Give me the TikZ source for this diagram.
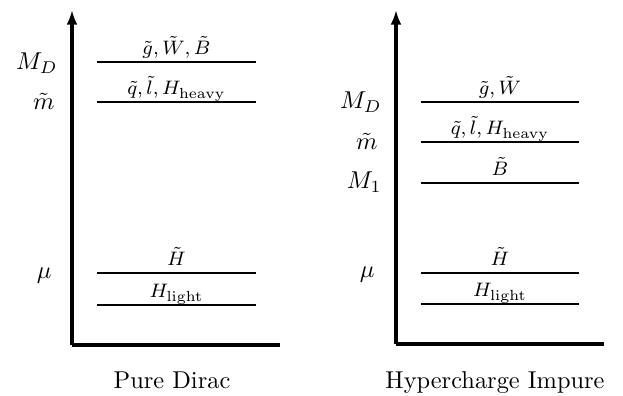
\documentclass[tikz,border=0pt]{standalone}
\usetikzlibrary{arrows.meta}
\begin{document}
\begin{tikzpicture}[x=0.41pt, y=-0.41pt,
    axis/.style={line width=1.3pt},
    lvl/.style={line width=1pt},
    lvltext/.style={anchor=base, font=\footnotesize, yshift=3pt},
    scaletext/.style={anchor=base east, inner sep=0pt},
    caption/.style={anchor=base}]
    \useasboundingbox (0,0) rectangle (623,396);

    % Pure Dirac
    \begin{scope}
        \coordinate (orgA) at (72,345);
        \coordinate (topA) at (72,10);
        \coordinate (endA) at (280,345);
        \draw[axis, -{Latex[length=6pt,width=4.5pt]}] (orgA) -- (topA);
        \draw[axis] (orgA) -- (endA);
        \draw[lvl] (97,62) -- (256,62) node[midway, lvltext] {$\tilde g,\tilde W,\tilde B$};
        \draw[lvl] (97,102) -- (256,102) node[midway, lvltext] {$\tilde q,\tilde l,H_{\rm heavy}$};
        \draw[lvl] (97,273) -- (256,273) node[midway, lvltext] {$\tilde H$};
        \draw[lvl] (97,305) -- (256,305) node[midway, lvltext] {$H_{\rm light}$};
        \node[scaletext] (mdA) at (58,70) {$M_D$};
        \node[scaletext] (msA) at (55,110) {$\tilde m$};
        \node[scaletext] (muA) at (52,279) {$\mu$};
        \node[caption] (capA) at (172,389) {Pure Dirac};
    \end{scope}

    % Hypercharge Impure
    \begin{scope}[shift={(324,0)}]
        \coordinate (orgB) at (72,344);
        \coordinate (topB) at (72,10);
        \coordinate (endB) at (280,344);
        \draw[axis, -{Latex[length=6pt,width=4.5pt]}] (orgB) -- (topB);
        \draw[axis] (orgB) -- (endB);
        \draw[lvl] (97,102) -- (255,102) node[midway, lvltext] {$\tilde g,\tilde W$};
        \draw[lvl] (97,142) -- (255,142) node[midway, lvltext] {$\tilde q,\tilde l,H_{\rm heavy}$};
        \draw[lvl] (97,183) -- (255,183) node[midway, lvltext] {$\tilde B$};
        \draw[lvl] (97,273) -- (255,273) node[midway, lvltext] {$\tilde H$};
        \draw[lvl] (97,304) -- (255,304) node[midway, lvltext] {$H_{\rm light}$};
        \node[scaletext] (mdB) at (58,109) {$M_D$};
        \node[scaletext] (msB) at (54,150) {$\tilde m$};
        \node[scaletext] (m1B) at (58,189) {$M_1$};
        \node[scaletext] (muB) at (51,278) {$\mu$};
        \node[caption] (capB) at (171,389) {Hypercharge Impure};
    \end{scope}
\end{tikzpicture}
\end{document}
